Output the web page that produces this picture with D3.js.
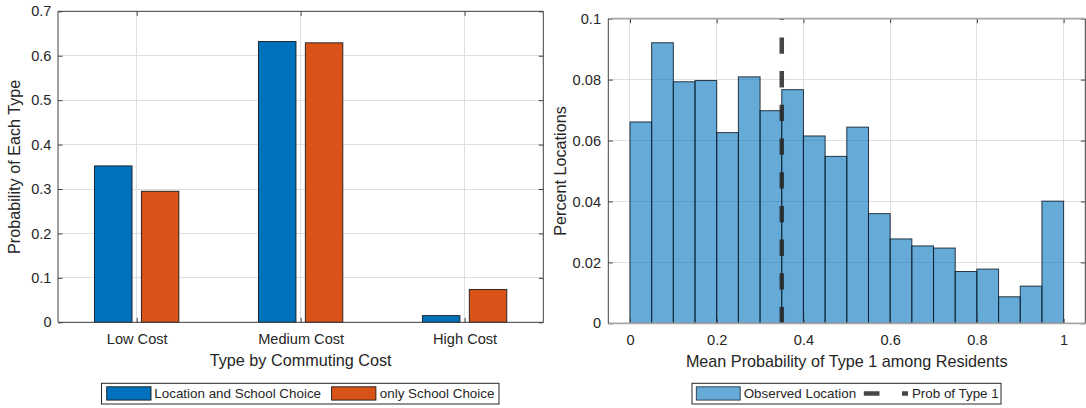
<!DOCTYPE html>
<html>
<head>
<meta charset="utf-8">
<script src="https://cdn.jsdelivr.net/npm/d3@7"></script>
<style>
  html, body { margin: 0; padding: 0; background: #fff; }
  svg { display: block; }
  text { font-family: "Liberation Sans", Arial, Helvetica, sans-serif; fill: #262626; }
</style>
</head>
<body>
<script>
// ---------- Data ----------
const categories = ["Low Cost", "Medium Cost", "High Cost"];
const locationAndSchool = [0.352, 0.632, 0.015];
const onlySchool = [0.295, 0.629, 0.074];
const leftYTicks = [0, 0.1, 0.2, 0.3, 0.4, 0.5, 0.6, 0.7];
const seriesNames = ["Location and School Choice", "only School Choice"];

const binEdges = [0, 0.05, 0.1, 0.15, 0.2, 0.25, 0.3, 0.35, 0.4, 0.45, 0.5,
                  0.55, 0.6, 0.65, 0.7, 0.75, 0.8, 0.85, 0.9, 0.95, 1];
const percentLocations = [0.0661, 0.0921, 0.0793, 0.0797, 0.0626, 0.0809, 0.0698,
                          0.0767, 0.0615, 0.0548, 0.0644, 0.0360, 0.0277, 0.0254,
                          0.0247, 0.0170, 0.0178, 0.0087, 0.0122, 0.0401];
const probType1 = 0.35;
const rightXTicks = [0, 0.2, 0.4, 0.6, 0.8, 1];
const rightYTicks = [0, 0.02, 0.04, 0.06, 0.08, 0.1];
const rightLegendNames = ["Observed Location", "Prob of Type 1"];

// ---------- Setup ----------
const W = 1086, H = 408;
const svg = d3.select("body").append("svg").attr("width", W).attr("height", H);

const TICK_FS = 14.6, LABEL_FS = 16.2, LEG_FS = 13.4;
const gridColor = "#dfdfdf";
const axisColor = "#404040";

const colBlue = "#0072BD", colOrange = "#D95319";

function drawAxes(g, x, y, xTicks, yTicks, xFmt, yFmt, opts) {
  const [x0, x1] = x.range();
  const [y0, y1] = y.range(); // y0 bottom, y1 top
  // grid
  const grid = g.append("g").attr("class", "grid");
  grid.selectAll("line.gx").data(xTicks).join("line")
    .attr("x1", d => x(d)).attr("x2", d => x(d))
    .attr("y1", y0).attr("y2", y1)
    .attr("stroke", gridColor).attr("stroke-width", 1).attr("shape-rendering", "crispEdges");
  grid.selectAll("line.gy").data(yTicks).join("line")
    .attr("y1", d => y(d)).attr("y2", d => y(d))
    .attr("x1", x0).attr("x2", x1)
    .attr("stroke", gridColor).attr("stroke-width", 1).attr("shape-rendering", "crispEdges");
}

function drawFrame(g, x, y, xTicks, yTicks, xFmt, yFmt, opts) {
  const [x0, x1] = x.range();
  const [y0, y1] = y.range();
  const tl = 4.5;
  // axes via d3
  const ax = g.append("g").attr("transform", `translate(0,${y0})`)
    .call(d3.axisBottom(x).tickValues(xTicks).tickFormat(xFmt).tickSize(-tl).tickSizeOuter(0).tickPadding(11.1));
  const axTop = g.append("g").attr("transform", `translate(0,${y1})`)
    .call(d3.axisTop(x).tickValues(xTicks).tickFormat("").tickSize(-tl).tickSizeOuter(0));
  const ay = g.append("g").attr("transform", `translate(${x0},0)`)
    .call(d3.axisLeft(y).tickValues(yTicks).tickFormat(yFmt).tickSize(-tl).tickSizeOuter(0).tickPadding(opts.yPad));
  const ayR = g.append("g").attr("transform", `translate(${x1},0)`)
    .call(d3.axisRight(y).tickValues(yTicks).tickFormat("").tickSize(-tl).tickSizeOuter(0));
  [ax, axTop, ay, ayR].forEach(a => {
    a.select(".domain").remove();
    a.selectAll(".tick line").attr("stroke", axisColor).attr("stroke-width", 1);
    a.selectAll(".tick text").attr("font-size", TICK_FS).attr("fill", "#262626")
      .style("font-family", '"Liberation Sans", Arial, sans-serif');
  });
  // box
  g.append("line").attr("x1", x0).attr("x2", x1).attr("y1", y1).attr("y2", y1)
    .attr("stroke", opts.hColor).attr("stroke-width", opts.hWidth);
  g.append("line").attr("x1", x0).attr("x2", x1).attr("y1", y0).attr("y2", y0)
    .attr("stroke", opts.hColor).attr("stroke-width", opts.hWidth);
  g.append("line").attr("x1", x0).attr("x2", x0).attr("y1", y0).attr("y2", y1)
    .attr("stroke", axisColor).attr("stroke-width", 1);
  g.append("line").attr("x1", x1).attr("x2", x1).attr("y1", y0).attr("y2", y1)
    .attr("stroke", axisColor).attr("stroke-width", 1);
}

// ---------- Left chart ----------
const gL = svg.append("g");
const xL = d3.scaleLinear().domain([0.52, 3.48]).range([58, 543.3]);
const yL = d3.scaleLinear().domain([0, 0.7]).range([322.3, 11.3]);
const catIdx = categories.map((c, i) => i + 1);

drawAxes(gL, xL, yL, catIdx, leftYTicks);

const barW = 0.2286, barOff = 0.1429;
const leftSeries = [
  { vals: locationAndSchool, color: colBlue, off: -barOff },
  { vals: onlySchool, color: colOrange, off: barOff }
];
leftSeries.forEach(s => {
  gL.append("g").selectAll("rect").data(s.vals).join("rect")
    .attr("x", (d, i) => xL(i + 1 + s.off - barW / 2))
    .attr("width", (d, i) => xL(i + 1 + s.off + barW / 2) - xL(i + 1 + s.off - barW / 2))
    .attr("y", d => yL(d))
    .attr("height", d => yL(0) - yL(d))
    .attr("fill", s.color)
    .attr("stroke", "#1a1a1a").attr("stroke-width", 0.9);
});

drawFrame(gL, xL, yL, catIdx, leftYTicks, i => categories[i - 1], d => d3.format("")(d),
  { yPad: 6.5, hColor: axisColor, hWidth: 1 });

gL.append("text").attr("x", (58 + 543.3) / 2).attr("y", 366)
  .attr("text-anchor", "middle").attr("font-size", LABEL_FS).text("Type by Commuting Cost");
gL.append("text").attr("transform", `translate(20,${(322.3 + 11.3) / 2}) rotate(-90)`)
  .attr("text-anchor", "middle").attr("font-size", LABEL_FS).text("Probability of Each Type");

// left legend
const legL = gL.append("g");
legL.append("rect").attr("x", 101.5).attr("y", 383.3).attr("width", 397.5).attr("height", 20.7)
  .attr("fill", "#fff").attr("stroke", "#262626").attr("stroke-width", 1);
const legLItems = [
  { name: seriesNames[0], color: colBlue, sx: 106.7, tx: 154.3 },
  { name: seriesNames[1], color: colOrange, sx: 331.6, tx: 379.8 }
];
legLItems.forEach(it => {
  legL.append("rect").attr("x", it.sx).attr("y", 386.8).attr("width", 44.3).attr("height", 13.3)
    .attr("fill", it.color).attr("stroke", "#1a1a1a").attr("stroke-width", 0.9);
  legL.append("text").attr("x", it.tx).attr("y", 393.6).attr("dy", "0.35em")
    .attr("font-size", LEG_FS).attr("fill", "#000").text(it.name);
});

// ---------- Right chart ----------
const gR = svg.append("g");
const xR = d3.scaleLinear().domain([-0.05, 1.05]).range([608.3, 1085.3]);
const yR = d3.scaleLinear().domain([0, 0.1]).range([323.3, 18.7]);

drawAxes(gR, xR, yR, rightXTicks, rightYTicks);

const bins = percentLocations.map((v, i) => ({ x0: binEdges[i], x1: binEdges[i + 1], v }));
gR.append("g").selectAll("rect").data(bins).join("rect")
  .attr("x", d => xR(d.x0)).attr("width", d => xR(d.x1) - xR(d.x0))
  .attr("y", d => yR(d.v)).attr("height", d => yR(0) - yR(d.v))
  .attr("fill", colBlue).attr("fill-opacity", 0.6)
  .attr("stroke", "#0d1a26").attr("stroke-opacity", 0.85).attr("stroke-width", 1);

// dashed vertical line
gR.append("line")
  .attr("x1", xR(probType1)).attr("x2", xR(probType1))
  .attr("y1", yR(0)).attr("y2", yR(0.1))
  .attr("stroke", "#262626").attr("stroke-opacity", 0.85).attr("stroke-width", 4.5)
  .attr("stroke-dasharray", "16.3,17.4");

drawFrame(gR, xR, yR, rightXTicks, rightYTicks, d => d3.format("")(d), d => d3.format("")(d),
  { yPad: 7.3, hColor: "#a6a6a6", hWidth: 1.8 });

gR.append("text").attr("x", (608.3 + 1085.3) / 2).attr("y", 366.7)
  .attr("text-anchor", "middle").attr("font-size", LABEL_FS).text("Mean Probability of Type 1 among Residents");
gR.append("text").attr("transform", `translate(565.5,${(323.3 + 18.7) / 2}) rotate(-90)`)
  .attr("text-anchor", "middle").attr("font-size", LABEL_FS).text("Percent Locations");

// right legend
const legR = gR.append("g");
legR.append("rect").attr("x", 692).attr("y", 383.3).attr("width", 309).attr("height", 20.7)
  .attr("fill", "#fff").attr("stroke", "#262626").attr("stroke-width", 1);
legR.append("rect").attr("x", 696.3).attr("y", 386.8).attr("width", 43.9).attr("height", 13.3)
  .attr("fill", colBlue).attr("fill-opacity", 0.6)
  .attr("stroke", "#0d1a26").attr("stroke-opacity", 0.85).attr("stroke-width", 0.9);
legR.append("text").attr("x", 743.7).attr("y", 393.6).attr("dy", "0.35em")
  .attr("font-size", LEG_FS).attr("fill", "#000").text(rightLegendNames[0]);
legR.append("line").attr("x1", 863.8).attr("x2", 908).attr("y1", 393.6).attr("y2", 393.6)
  .attr("stroke", "#262626").attr("stroke-opacity", 0.85).attr("stroke-width", 4.5)
  .attr("stroke-dasharray", "15.7,22.5");
legR.append("text").attr("x", 911.9).attr("y", 393.6).attr("dy", "0.35em")
  .attr("font-size", LEG_FS).attr("fill", "#000").text(rightLegendNames[1]);
</script>
</body>
</html>
